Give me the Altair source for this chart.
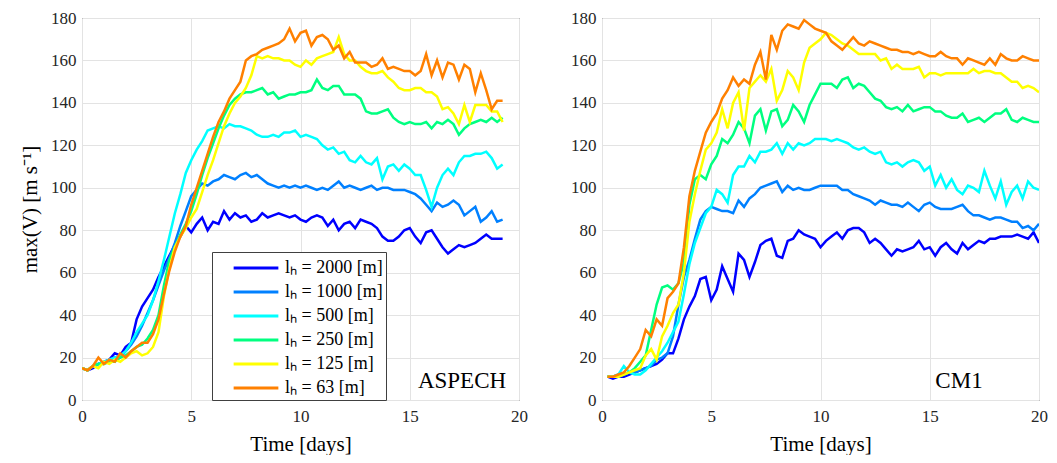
import altair as alt
import numpy as np
import pandas as pd

# ---------------- data ----------------
labels = ["lₕ = 2000 [m]", "lₕ = 1000 [m]", "lₕ = 500 [m]",
          "lₕ = 250 [m]", "lₕ = 125 [m]", "lₕ = 63 [m]"]
colors = ["#0000ff", "#0080ff", "#00ffff", "#00ff80", "#ffff00", "#ff8000"]
panel_names = ["ASPECH", "CM1"]

# ASPECH: samples every 0.25 day from 0 to 19.25
aspech_days = np.arange(78) * 0.25
aspech_2000 = [15, 14, 15, 17, 18, 19, 22, 21, 25, 27, 38, 44, 48, 52, 58, 63,
               68, 73, 77, 82, 79, 83, 86, 80, 84, 83, 89, 85, 88, 86, 87, 84,
               85, 88, 86, 87, 88, 87, 86, 87, 85, 84, 86, 87, 86, 82, 85, 80,
               83, 84, 81, 85, 84, 83, 81, 77, 75, 75, 77, 80, 81, 77, 74, 79,
               80, 76, 72, 69, 71, 73, 72, 73, 74, 76, 78, 76, 76, 76]
aspech_1000 = [15, 14, 16, 17, 18, 19, 20, 20, 23, 26, 30, 35, 41, 47, 54, 61,
               67, 74, 82, 89, 96, 99, 102, 101, 103, 104, 106, 105, 104, 106, 107, 105,
               106, 104, 102, 101, 100, 101, 100, 101, 100, 101, 100, 99, 100, 99, 101, 103,
               100, 101, 100, 99, 100, 101, 99, 100, 100, 99, 99, 99, 98, 97, 95, 92,
               89, 93, 91, 92, 94, 92, 87, 89, 91, 84, 86, 89, 84, 85]
aspech_500 = [15, 14, 16, 17, 18, 19, 20, 21, 23, 27, 32, 36, 40, 47, 56, 66,
              77, 88, 97, 107, 113, 118, 122, 127, 128, 129, 128, 130, 129, 129, 128, 127,
              125, 124, 124, 125, 124, 126, 126, 127, 124, 125, 124, 123, 120, 118, 119, 116,
              117, 113, 112, 115, 112, 111, 114, 104, 110, 111, 108, 111, 109, 106, 106, 99,
              91, 100, 106, 109, 106, 112, 115, 115, 116, 116, 117, 114, 109, 111]
aspech_250 = [15, 14, 16, 17, 17, 18, 18, 20, 21, 23, 25, 26, 29, 33, 40, 54,
              66, 72, 78, 83, 89, 97, 106, 114, 121, 128, 134, 139, 142, 144, 145, 145,
              146, 147, 144, 145, 142, 143, 144, 144, 145, 145, 146, 151, 147, 146, 148, 148,
              144, 144, 144, 142, 136, 135, 135, 136, 137, 133, 131, 130, 131, 130, 130, 131,
              128, 131, 130, 132, 130, 125, 128, 130, 131, 132, 131, 133, 131, 133]
aspech_125 = [15, 14, 16, 15, 18, 17, 19, 18, 20, 22, 23, 21, 22, 25, 32, 49,
              62, 72, 77, 81, 86, 90, 98, 106, 113, 121, 129, 135, 140, 143, 147, 153,
              162, 161, 162, 161, 161, 160, 160, 158, 157, 160, 158, 161, 162, 163, 164, 171,
              163, 160, 160, 157, 155, 154, 154, 155, 152, 150, 147, 146, 146, 147, 147, 145,
              145, 143, 137, 138, 135, 130, 139, 131, 139, 139, 139, 136, 136, 131]
aspech_63 = [15, 14, 16, 20, 17, 19, 18, 22, 20, 23, 25, 27, 27, 31, 38, 50,
             61, 70, 77, 82, 92, 100, 108, 116, 124, 131, 136, 142, 146, 150, 160, 162,
             163, 165, 166, 167, 168, 170, 175, 169, 173, 174, 167, 171, 172, 170, 165, 167,
             161, 164, 159, 159, 159, 157, 158, 161, 156, 157, 156, 155, 155, 153, 155, 163,
             153, 160, 152, 159, 158, 151, 158, 156, 145, 154, 146, 137, 141, 141]

# CM1: samples every 0.25 day from 0.25 to 20
cm1_days = np.arange(1, 81) * 0.25
cm1_2000 = [11, 10, 11, 11, 12, 13, 14, 15, 16, 17, 19, 22, 22, 29, 38,
            44, 49, 57, 58, 47, 52, 63, 57, 51, 69, 66, 58, 65, 73, 75, 76,
            68, 67, 75, 76, 80, 78, 77, 76, 72, 75, 77, 79, 76, 80, 81, 81,
            79, 74, 76, 74, 71, 68, 71, 70, 71, 72, 75, 71, 72, 68, 72, 74,
            71, 69, 74, 71, 73, 75, 74, 76, 76, 77, 77, 77, 78, 77, 76, 79, 74]
cm1_1000 = [11, 11, 12, 12, 13, 13, 14, 15, 16, 19, 20, 22, 30, 45, 58,
            66, 76, 85, 89, 91, 90, 89, 89, 88, 94, 91, 95, 97, 100, 101, 102,
            103, 98, 101, 99, 100, 99, 99, 100, 101, 101, 101, 101, 99, 99, 97, 96,
            95, 94, 92, 94, 93, 92, 92, 91, 93, 91, 89, 92, 93, 91, 90, 90,
            90, 91, 92, 89, 87, 87, 86, 85, 86, 86, 85, 84, 84, 81, 82, 80, 83]
cm1_500 = [11, 11, 12, 16, 13, 12, 12, 14, 17, 20, 23, 27, 32, 37, 50,
           64, 74, 81, 88, 91, 99, 97, 93, 106, 110, 110, 115, 112, 117, 117, 118,
           121, 116, 121, 118, 121, 120, 121, 123, 123, 123, 122, 123, 122, 121, 119, 118,
           119, 117, 116, 117, 112, 111, 112, 110, 112, 113, 112, 108, 110, 101, 106, 100,
           104, 99, 97, 101, 100, 98, 108, 101, 95, 103, 92, 98, 101, 95, 103, 100, 99]
cm1_250 = [11, 11, 11, 12, 13, 15, 18, 21, 33, 45, 53, 54, 52, 55, 65,
           92, 104, 106, 104, 111, 115, 123, 121, 125, 131, 128, 121, 134, 137, 127, 136,
           137, 129, 132, 139, 136, 131, 139, 144, 149, 149, 149, 147, 151, 152, 147, 149,
           148, 145, 142, 141, 138, 137, 138, 136, 139, 136, 137, 138, 138, 136, 136, 134,
           133, 133, 135, 131, 132, 133, 131, 133, 135, 135, 137, 132, 131, 133, 132, 131, 131]
cm1_125 = [11, 11, 11, 12, 13, 14, 15, 21, 24, 19, 30, 35, 41, 45, 60,
           84, 97, 108, 118, 121, 126, 137, 128, 140, 145, 127, 147, 150, 153, 150, 156,
           141, 146, 155, 152, 146, 159, 166, 168, 170, 173, 172, 170, 168, 167, 165, 163,
           163, 163, 163, 160, 161, 156, 158, 156, 156, 156, 157, 152, 154, 154, 153, 154,
           154, 154, 154, 154, 156, 154, 155, 155, 154, 154, 152, 150, 150, 147, 148, 147, 145]
cm1_63 = [11, 11, 12, 13, 16, 20, 24, 33, 30, 38, 35, 48, 51, 55, 72,
          96, 108, 117, 126, 131, 135, 142, 146, 152, 148, 151, 149, 158, 164, 151, 172,
          165, 174, 177, 176, 175, 179, 177, 175, 174, 173, 169, 167, 165, 168, 171, 168,
          167, 169, 168, 167, 166, 165, 165, 164, 164, 163, 164, 163, 162, 162, 164, 162,
          161, 161, 158, 161, 160, 159, 158, 161, 158, 163, 161, 160, 160, 162, 161, 160, 160]


def long_frame(days, series):
    rows = []
    for k, (lab, vals) in enumerate(zip(labels, series)):
        for d, v in zip(days, vals):
            rows.append({"day": float(d), "v": v, "label": lab, "k": k})
    return pd.DataFrame(rows)


df_a = long_frame(aspech_days, [aspech_2000, aspech_1000, aspech_500,
                                aspech_250, aspech_125, aspech_63])
df_c = long_frame(cm1_days, [cm1_2000, cm1_1000, cm1_500,
                             cm1_250, cm1_125, cm1_63])

SERIF = "Liberation Serif"
W, H = 437, 382


def panel(df, name, first):
    legend = alt.Legend(
        orient="none", legendX=130, legendY=234, title=None,
        fillColor="white", strokeColor="#404040", padding=3,
        symbolType="M-2,0H2", symbolSize=500, symbolStrokeWidth=3,
        symbolOffset=28, labelFont=SERIF, labelFontSize=18,
        labelOffset=16, rowPadding=2, labelColor="#000000",
    ) if first else None
    lines = alt.Chart(df).mark_line(strokeWidth=2.5, clip=True).encode(
        x=alt.X("day:Q", scale=alt.Scale(domain=[0, 20], nice=False),
                axis=alt.Axis(values=[0, 5, 10, 15, 20], title="Time [days]",
                              titleFontWeight="normal")),
        y=alt.Y("v:Q", scale=alt.Scale(domain=[0, 180], nice=False),
                axis=alt.Axis(values=list(range(0, 181, 20)),
                              titleFontWeight="normal",
                              title="max(V) [m s⁻¹]" if first else None)),
        color=alt.Color("label:N", scale=alt.Scale(domain=labels, range=colors),
                        legend=legend),
        order=alt.Order("k:Q"),
    )
    txt = alt.Chart(pd.DataFrame({"t": [name]})).mark_text(
        font=SERIF, fontSize=23, align="center", baseline="alphabetic", color="black"
    ).encode(text="t:N",
             x=alt.value(380 if first else 357),
             y=alt.value(370))
    return alt.layer(lines, txt).properties(width=W, height=H)


chart = alt.hconcat(panel(df_a, panel_names[0], True),
                    panel(df_c, panel_names[1], False),
                    spacing=42).properties(
    padding={"left": 11, "top": 0, "right": 0, "bottom": 0}
).configure(
    font=SERIF
).configure_view(
    stroke="#262626", strokeWidth=1
).configure_axis(
    grid=True, gridColor="#e3e3e3", gridWidth=1, domain=False, ticks=False,
    labelFont=SERIF, labelFontSize=17, labelColor="#262626", labelPadding=8,
    titleFont=SERIF, titleFontSize=21, titleFontWeight="normal", titleColor="#000000",
).configure_axisY(titlePadding=10, labelPadding=6).configure_axisX(
    titlePadding=9, labelFlush=False, titleFontWeight="normal")

chart.save("out.html", embed_options={"renderer": "svg", "actions": False})
